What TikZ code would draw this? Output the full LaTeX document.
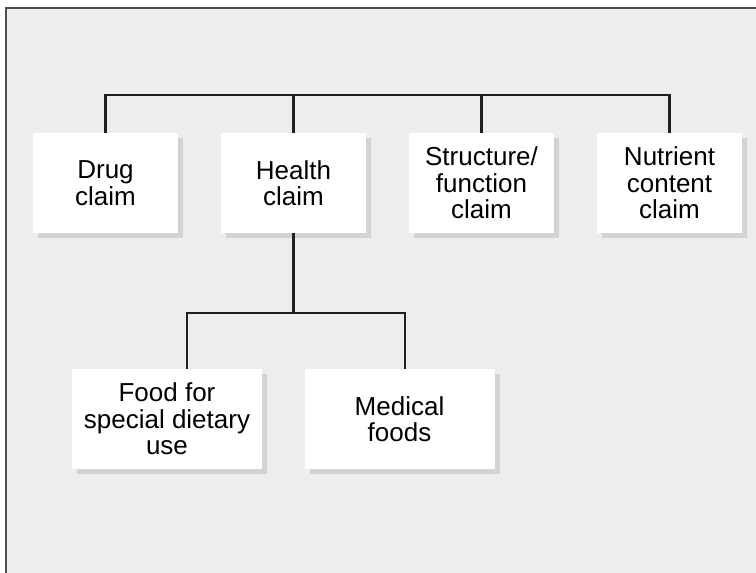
\documentclass[tikz,border=0pt]{standalone}
\usepackage{fontspec}
\setmainfont{Liberation Sans}
\usetikzlibrary{shadows}
\definecolor{panelgray}{HTML}{EDEDED}
\definecolor{shadegray}{HTML}{D1D3D4}
\definecolor{linkblack}{HTML}{231F20}
\definecolor{framegray}{HTML}{4D4D4D}

\begin{document}
\begin{tikzpicture}[
    x=1pt, y=-1pt,
    claim/.style={rectangle, fill=white, inner sep=0pt, minimum width=145pt, minimum height=100pt, align=center, font=\fontsize{26}{26.5}\selectfont, drop shadow={shadow xshift=5pt, shadow yshift=-5pt, fill=shadegray, opacity=1}},
    subclaim/.style={claim, minimum width=190pt},
    link/.style={draw=linkblack, line width=2.8pt}
]
\useasboundingbox (0,0) rectangle (756,573);

% Fond gris et cadre
\fill[panelgray] (6,8) rectangle (756,573);
\draw[framegray, line width=2pt] (6,573) -- (6,8) -- (756,8);

% Types d'allegations (ligne du haut)
\node[claim] (drug) at (105.5,183) {Drug\\claim};
\node[claim] (health) at (293.5,183) {Health\\claim};
\node[claim] (struct) at (481.5,183) {Structure/\\function\\claim};
\node[claim] (nutrient) at (669.5,183) {Nutrient\\content\\claim};

% Sous-categories
\node[subclaim] (dietary) at (167,419) {Food for\\special dietary\\use};
\node[subclaim] (medical) at (399.5,419) {Medical\\foods};

% Barre du haut
\coordinate (bus) at (293.5,95);
\draw[link] (drug.north) |- (bus) -| (nutrient.north);
\draw[link] (bus) -- (health.north);
\draw[link] (bus -| struct.north) -- (struct.north);

% Branche sante
\coordinate (split) at (293.5,313);
\draw[link] (health.south) -- (split);
\draw[link] ([xshift=20pt]dietary.north) |- (split) -| ([xshift=5.5pt]medical.north);

\end{tikzpicture}
\end{document}
